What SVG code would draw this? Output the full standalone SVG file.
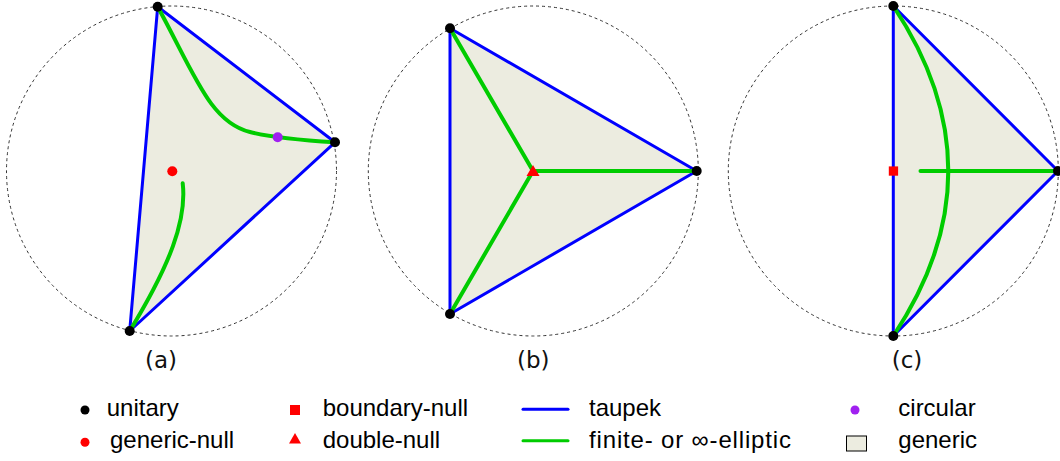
<svg xmlns="http://www.w3.org/2000/svg" width="1060" height="461" viewBox="0 0 1060 461">
<style>
.bg{fill:#ffffff}
.circ{fill:none;stroke:#333;stroke-width:1;stroke-dasharray:3,3}
.region{fill:#ECECE0;stroke:none}
.taupek{fill:none;stroke:#0000FF;stroke-width:3;stroke-linecap:round;stroke-linejoin:round}
.ell{fill:none;stroke:#00CC00;stroke-width:4;stroke-linecap:round}
.unit{fill:#000}
.red{fill:#FF0000}
.purple{fill:#A020F0}
.lab{font-family:"DejaVu Sans",sans-serif;font-size:23px;fill:#111;text-anchor:middle}
.leg{font-family:"Liberation Sans",Arial,sans-serif;font-size:24px;fill:#000}
</style>
<rect class="bg" x="0" y="0" width="1060" height="461"/>

<g id="panel-a">
  <circle class="circ" cx="171.5" cy="171" r="165"/>
  <polygon class="region" points="157.7,6.7 335,142.3 129.7,331"/>
  <g id="a-taupek">
    <polygon class="taupek" points="157.7,6.7 335,142.3 129.7,331"/>
  </g>
  <g id="a-elliptic">
    <path class="ell" d="M157.7,6.7 C195,75 210,122 250,132 C270,137 300,140 335,142.3"/>
    <path class="ell" d="M182.7,183.3 C187,220 170,265 129.7,331"/>
  </g>
  <circle id="a-generic-null" class="red" cx="172.3" cy="171.3" r="5"/>
  <circle id="a-circular" class="purple" cx="277.7" cy="137.3" r="5"/>
  <circle class="unit" cx="157.7" cy="6.7" r="5"/>
  <circle class="unit" cx="335" cy="142.3" r="5"/>
  <circle class="unit" cx="129.7" cy="331" r="5"/>
  <text class="lab" x="161" y="368">(a)</text>
</g>

<g id="panel-b">
  <circle class="circ" cx="533.3" cy="171" r="165"/>
  <polygon class="region" points="450,28.3 696.7,171 450,314"/>
  <polygon class="taupek" points="450,28.3 696.7,171 450,314"/>
  <g id="b-elliptic">
    <path class="ell" d="M533,171 L450,28.3 M533,171 L696.7,171 M533,171 L450,314"/>
  </g>
  <polygon id="b-double-null" class="red" points="526.5,176 539.5,176 533,165"/>
  <circle class="unit" cx="450" cy="28.3" r="5"/>
  <circle class="unit" cx="696.7" cy="171" r="5"/>
  <circle class="unit" cx="450" cy="314" r="5"/>
  <text class="lab" x="533.3" y="368">(b)</text>
</g>

<g id="panel-c">
  <circle class="circ" cx="893.3" cy="171" r="165"/>
  <polygon class="region" points="893.3,6 1058,171 893.3,336"/>
  <polygon class="taupek" points="893.3,6 1058,171 893.3,336"/>
  <g id="c-elliptic">
    <path class="ell" d="M893.3,6 Q1003.3,171 893.3,336"/>
    <path class="ell" d="M920.5,171 L1058,171"/>
  </g>
  <rect id="c-boundary-null" class="red" x="888.8" y="166.4" width="9.3" height="9.3"/>
  <circle class="unit" cx="893.3" cy="6" r="5"/>
  <circle class="unit" cx="1058" cy="171" r="5"/>
  <circle class="unit" cx="893.3" cy="336" r="5"/>
  <text class="lab" x="907" y="368">(c)</text>
</g>

<g id="legend">
  <g id="leg-unitary">
    <circle class="unit" cx="85" cy="410" r="4.5"/>
    <text class="leg" x="106.7" y="416">unitary</text>
  </g>
  <g id="leg-generic-null">
    <circle class="red" cx="85" cy="442.3" r="4.5"/>
    <text class="leg" x="110" y="448">generic-null</text>
  </g>
  <g id="leg-boundary-null">
    <rect class="red" x="290" y="405" width="10" height="10"/>
    <text class="leg" x="322.7" y="416">boundary-null</text>
  </g>
  <g id="leg-double-null">
    <polygon class="red" points="289,443.5 301,443.5 295,433"/>
    <text class="leg" x="322.7" y="448">double-null</text>
  </g>
  <g id="leg-taupek">
    <line class="taupek" x1="523" y1="409.3" x2="568" y2="409.3"/>
    <text class="leg" x="589" y="416">taupek</text>
  </g>
  <g id="leg-elliptic">
    <line x1="523" y1="440.7" x2="568" y2="440.7" stroke="#00CC00" stroke-width="3" stroke-linecap="round"/>
    <text class="leg" x="589" y="448" textLength="202" lengthAdjust="spacing">finite- or ∞-elliptic</text>
  </g>
  <g id="leg-circular">
    <circle class="purple" cx="855" cy="410" r="4.5"/>
    <text class="leg" x="898.3" y="416">circular</text>
  </g>
  <g id="leg-generic">
    <rect x="846.5" y="436" width="20" height="15" fill="#ECECE0" stroke="#000" stroke-width="1"/>
    <text class="leg" x="898.3" y="448">generic</text>
  </g>
</g>
</svg>
